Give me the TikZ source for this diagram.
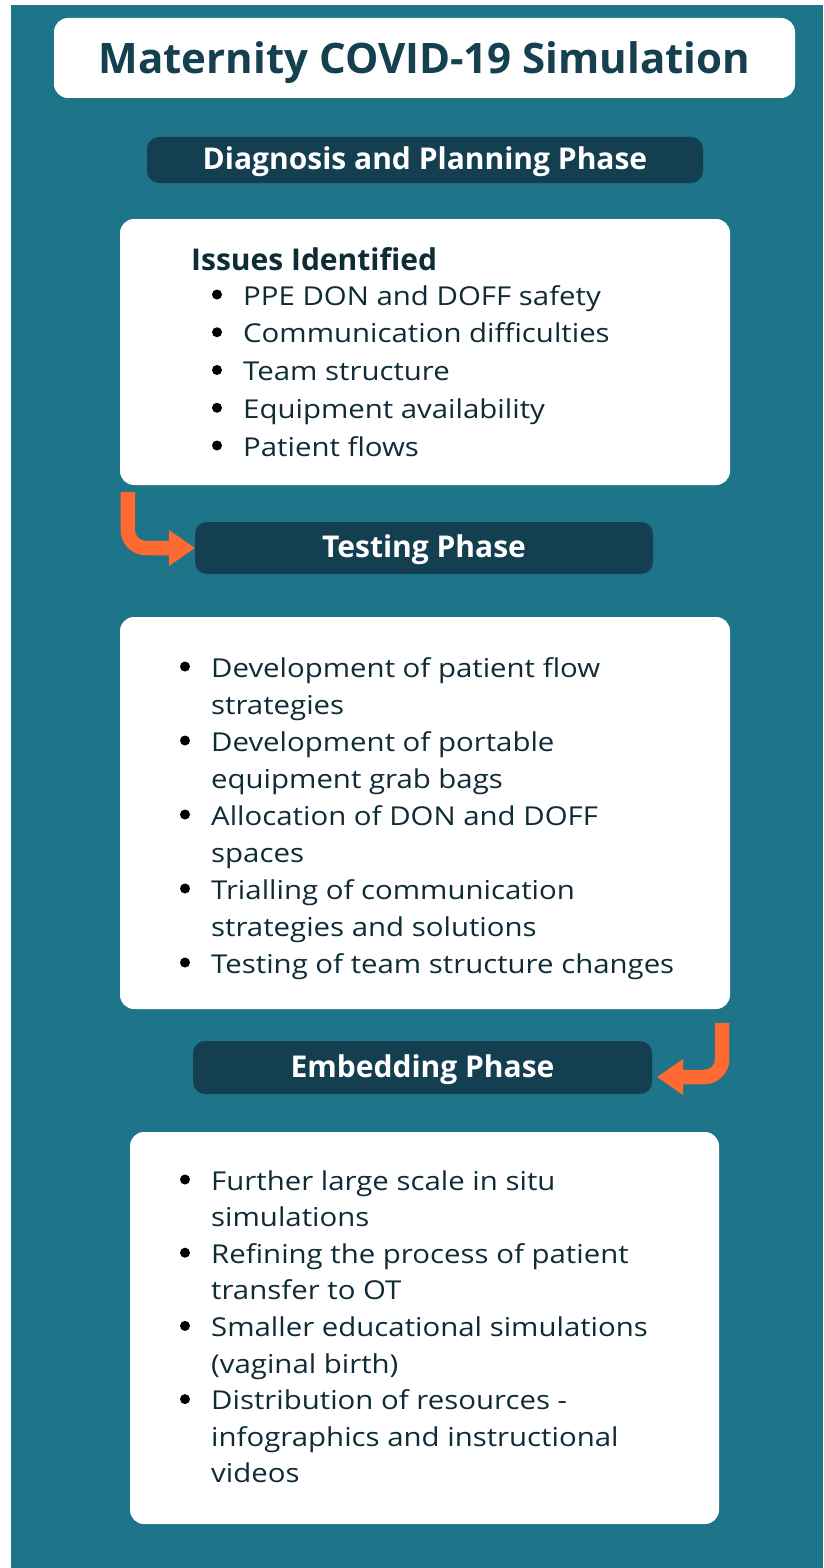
\documentclass[tikz,border=0pt]{standalone}
\usepackage{fontspec}
\setmainfont{Open Sans}
\newfontfamily\bodyfont{Open Sans}[FakeStretch=1.13]
\usetikzlibrary{arrows.meta}
\definecolor{bgteal}{HTML}{1E7489}
\definecolor{hdr}{HTML}{133F50}
\definecolor{ttl}{HTML}{15404F}
\definecolor{bodyc}{HTML}{0F2B36}
\definecolor{arr}{HTML}{FF6A33}
\tikzset{
  whitebox/.style={fill=white, rounded corners=14pt, inner sep=0pt},
  titlebox/.style={fill=white, rounded corners=14pt, inner sep=0pt, text=ttl,
     font=\bfseries\fontsize{42}{50}\selectfont, text height=32pt, text depth=0pt},
  hdrbox/.style={fill=hdr, rounded corners=12pt, inner sep=0pt, text=white,
     font=\bfseries\fontsize{30}{36}\selectfont, text height=24pt, text depth=5pt},
  bodytext/.style={anchor=base west, inner sep=0pt, text=bodyc, font=\bodyfont\fontsize{26}{31}\selectfont},
  boldtext/.style={anchor=base west, inner sep=0pt, text=bodyc, font=\bfseries\fontsize{30}{36}\selectfont},
  bulletdot/.style={circle, fill=black, inner sep=0pt, minimum size=10pt},
  orarrow/.style={draw=arr, line width=14.5pt, rounded corners=18pt,
     -{Triangle[length=26pt,width=36pt,line width=0.5pt]}}
}
\begin{document}
\begin{tikzpicture}[x=1pt,y=-1pt]
\useasboundingbox (0,0) rectangle (823,1568);
\fill[white] (0,0) rectangle (823,1568);
\fill[bgteal] (11,5) rectangle (823,1568);

\node[titlebox, minimum width=741pt, minimum height=80pt] (title) at (424.5,58) {Maternity COVID-19 Simulation};

\node[hdrbox, minimum width=556pt, minimum height=46pt] (diag) at (425,160) {Diagnosis and Planning Phase};

\node[whitebox, minimum width=610pt, minimum height=266pt] (box1) at (425,352) {};
\node[boldtext] (issues) at (191,270) {Issues Identified};
\foreach \t [count=\i from 0] in {PPE DON and DOFF safety, Communication difficulties, Team structure, Equipment availability, Patient flows} {
  \node[bodytext] (a\i) at (243,{305+37.75*\i}) {\t};
  \node[bulletdot] (ad\i) at (217,{294.5+37.75*\i}) {};
}

\node[hdrbox, minimum width=458pt, minimum height=52pt] (test) at (424,548) {Testing Phase};

\node[whitebox, minimum width=610pt, minimum height=392pt] (box2) at (425,813) {};
\foreach \t [count=\i from 0] in {Development of patient flow, strategies, Development of portable, equipment grab bags, Allocation of DON and DOFF, spaces, Trialling of communication, strategies and solutions, Testing of team structure changes} {
  \node[bodytext] (b\i) at (211,{677+37*\i}) {\t};
}
\foreach \i in {0,2,4,6,8} {
  \node[bulletdot] (bd\i) at (185,{666.5+37*\i}) {};
}

\node[hdrbox, minimum width=459pt, minimum height=53pt] (embed) at (422.5,1067.5) {Embedding Phase};

\node[whitebox, minimum width=589pt, minimum height=392pt] (box3) at (424.5,1328) {};
\foreach \t [count=\i from 0] in {Further large scale in situ, simulations, Refining the process of patient, transfer to OT, Smaller educational simulations, {(vaginal birth)}, Distribution of resources -, infographics and instructional, videos} {
  \node[bodytext] (c\i) at (211,{1190+36.6*\i}) {\t};
}
\foreach \i in {0,2,4,6} {
  \node[bulletdot] (cd\i) at (185,{1179.5+36.6*\i}) {};
}

\coordinate (a1s) at ([shift={(8pt,-7pt)}]box1.south west);
\draw[orarrow] (a1s) |- (test.west);

\coordinate (a2s) at ([shift={(-8pt,-14pt)}]box2.south east);
\coordinate (a2e) at ([shift={(5pt,-9.5pt)}]embed.east);
\draw[orarrow] (a2s) |- (a2e);
\end{tikzpicture}
\end{document}
